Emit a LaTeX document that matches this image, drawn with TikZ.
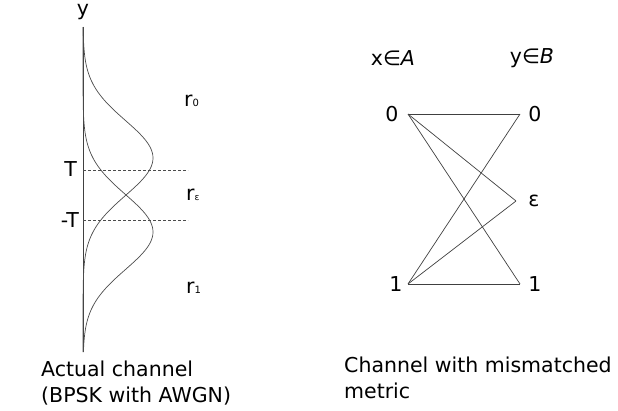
\documentclass[tikz,border=0pt]{standalone}
\usepackage{fontspec}
\setmainfont{DejaVu Sans}

\begin{document}
\begin{tikzpicture}[
  x=1pt,y=-1pt,
  lbl/.style={inner sep=0pt,font=\fontsize{20.5}{26}\selectfont},
  edge/.style={line width=0.7pt,draw=black!75},
  curve/.style={line width=0.7pt,draw=black!70},
  level/.style={line width=0.6pt,draw=black!70,dashed,dash pattern=on 3pt off 2pt}
]
\useasboundingbox (0,0) rectangle (618,410);

% actual channel
\coordinate (top) at (83,27);
\coordinate (bot) at (83,352);
\node[lbl] (ylab) at (83,12) {y};
\draw[edge] (top)--(bot);
\draw[curve] plot[domain=27:352,samples=120] ({83+70*exp(-0.5*((\x-158)/37.5)^2)},\x);
\draw[curve] plot[domain=27:352,samples=120] ({83+70*exp(-0.5*((\x-232)/37.5)^2)},\x);

\coordinate (tl) at (83,170);
\coordinate (tr) at (188,170);
\coordinate (ml) at (83,220);
\coordinate (mr) at (188,220);
\draw[level] (tl)--(tr);
\draw[level] (ml)--(mr);
\node[lbl,anchor=east] (T) at (77,169) {T};
\node[lbl,anchor=east] (mT) at (79,220) {-T};

\node[lbl,anchor=west] (r0) at (184,101) {r\raisebox{-0.5pt}{\fontsize{10}{10}\selectfont 0}};
\node[lbl,anchor=west] (re) at (186,195) {r\raisebox{-0.5pt}{\fontsize{9}{9}\selectfont ε}};
\node[lbl,anchor=west] (r1) at (186,288) {r\raisebox{-0.5pt}{\fontsize{10}{10}\selectfont 1}};

\node[lbl,anchor=west,align=left] (cap1) at (41,383) {Actual channel\\(BPSK with AWGN)};

% mismatched channel
\node[lbl] (xA) at (393,58) {x∈\textit{A}};
\node[lbl] (yB) at (532,58) {y∈\textit{B}};

\node[lbl] (x0) at (392,114) {0};
\node[lbl] (x1) at (396,284) {1};
\node[lbl] (y0) at (535,114) {0};
\node[lbl] (ye) at (534,201) {ε};
\node[lbl] (y1) at (535,284) {1};

\coordinate (a0) at (408,114);
\coordinate (a1) at (408,284);
\coordinate (b0) at (520,114);
\coordinate (be) at (516,201);
\coordinate (b1) at (520,284);

\draw[edge] (a0)--(b0);
\draw[edge] (a0)--(be);
\draw[edge] (a0)--(b1);
\draw[edge] (a1)--(b0);
\draw[edge] (a1)--(be);
\draw[edge] (a1)--(b1);

\node[lbl,anchor=west,align=left] (cap2) at (344,378) {Channel with mismatched\\metric};
\end{tikzpicture}
\end{document}
